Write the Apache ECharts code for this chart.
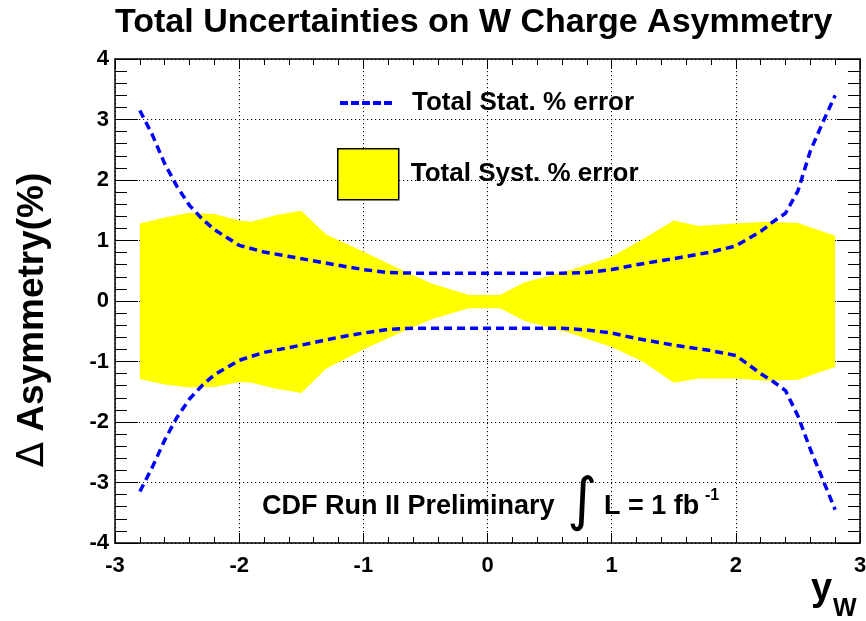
<!DOCTYPE html>
<html>
<head>
<meta charset="utf-8">
<script src="https://cdn.jsdelivr.net/npm/echarts@6/dist/echarts.min.js"></script>
<style>html,body{margin:0;padding:0;background:#fff;}#c{width:866px;height:621px;}</style>
</head>
<body>
<div id="c"></div>
<script>
// ---- data ----
const statX = [-2.8,-2.7,-2.6,-2.5,-2.4,-2.3,-2.2,-2.0,-1.8,-1.5,-1.2,-1.0,-0.8,-0.6,0,0.6,0.8,1.0,1.2,1.5,1.8,2.0,2.2,2.3,2.4,2.5,2.6,2.7,2.8];
const statUp = [3.15,2.75,2.27,1.89,1.58,1.36,1.18,0.92,0.81,0.70,0.59,0.52,0.47,0.46,0.46,0.46,0.47,0.52,0.60,0.70,0.81,0.91,1.15,1.31,1.45,1.82,2.48,2.95,3.40];
const statDown = [-3.15,-2.75,-2.30,-1.92,-1.62,-1.40,-1.22,-0.98,-0.85,-0.73,-0.60,-0.53,-0.47,-0.45,-0.45,-0.45,-0.48,-0.53,-0.62,-0.73,-0.82,-0.90,-1.20,-1.33,-1.48,-1.90,-2.45,-2.95,-3.45];

const systX = [-2.8,-2.6,-2.4,-2.2,-2.0,-1.9,-1.7,-1.5,-1.3,-1.0,-0.7,-0.45,-0.15,0.1,0.3,0.65,1.0,1.25,1.5,1.7,2.0,2.25,2.5,2.8];
const systUp = [1.28,1.38,1.46,1.44,1.33,1.31,1.42,1.49,1.10,0.82,0.52,0.29,0.10,0.10,0.31,0.50,0.73,1.02,1.33,1.24,1.28,1.31,1.29,1.08];
const systDown = [-1.29,-1.38,-1.43,-1.42,-1.34,-1.35,-1.45,-1.52,-1.12,-0.80,-0.52,-0.30,-0.12,-0.12,-0.33,-0.52,-0.76,-1.00,-1.35,-1.28,-1.28,-1.32,-1.30,-1.09];

const titleText = 'Total Uncertainties on W Charge Asymmetry';
const statName = 'Total Stat. % error';
const systName = 'Total Syst. % error';
const xMin = -3, xMax = 3, yMin = -4, yMax = 4;

const pairs = (xs, ys) => xs.map((x, i) => [x, ys[i]]);
const FONT = '"Liberation Sans", Arial, Helvetica, sans-serif';

function axisCommon(showLabel, showSplit, major, minor) {
  return {
    axisLine: { show: true, onZero: false, lineStyle: { color: '#000', width: 1.5 } },
    axisTick: { show: true, inside: true, length: major, lineStyle: { color: '#000', width: 1 } },
    minorTick: { show: true, splitNumber: 5, length: minor, lineStyle: { color: '#000', width: 1 } },
    splitLine: { show: showSplit, lineStyle: { color: '#000', width: 1, type: [1.2, 2.8] } },
    minorSplitLine: { show: false },
    axisLabel: { show: showLabel, color: '#000', fontSize: 22, fontWeight: 'bold', fontFamily: FONT }
  };
}

const chart = echarts.init(document.getElementById('c'), null, { renderer: 'canvas' });
chart.setOption({
  backgroundColor: '#fff',
  animation: false,
  title: {
    text: titleText, left: 110, top: 1,
    textStyle: { fontSize: 34, fontWeight: 'bold', color: '#000', fontFamily: FONT }
  },
  grid: { left: 115, right: 6, top: 59, bottom: 78, containLabel: false, outerBoundsMode: 'none' },
  xAxis: [
    Object.assign({ type: 'value', min: xMin, max: xMax, interval: 1, position: 'bottom' }, axisCommon(true, true, 10, 6),
      { axisLabel: { show: true, color: '#000', fontSize: 22, fontWeight: 'bold', fontFamily: FONT, margin: 12 } }),
    Object.assign({ type: 'value', min: xMin, max: xMax, interval: 1, position: 'top' }, axisCommon(false, false, 10, 6))
  ],
  yAxis: [
    Object.assign({ type: 'value', min: yMin, max: yMax, interval: 1, position: 'left' }, axisCommon(true, true, 23, 12),
      { axisLabel: { show: true, color: '#000', fontSize: 22, fontWeight: 'bold', fontFamily: FONT, margin: 6 } }),
    Object.assign({ type: 'value', min: yMin, max: yMax, interval: 1, position: 'right' }, axisCommon(false, false, 23, 12))
  ],
  legend: [
    {
      data: [{ name: statName, icon: 'path://M0 0H8V4H0Z M11 0H19V4H11Z M22 0H30V4H22Z M33 0H41V4H33Z M44 0H52V4H44Z' }],
      left: 340, top: 90, padding: 0, selectedMode: false,
      itemWidth: 52, itemHeight: 4,
      itemStyle: { color: '#0000ff', borderWidth: 0 },
      textStyle: { fontSize: 26, fontWeight: 'bold', color: '#000', fontFamily: FONT, padding: [6, 0, 0, 15] }
    },
    {
      data: [{ name: systName, icon: 'rect' }], left: 337, top: 148, padding: 0, selectedMode: false,
      itemWidth: 61, itemHeight: 51,
      itemStyle: { color: '#ffff00', borderColor: '#000', borderWidth: 1.5 },
      textStyle: { fontSize: 26, fontWeight: 'bold', color: '#000', fontFamily: FONT, padding: [0, 0, 0, 7] }
    }
  ],
  series: [
    {
      name: systName, type: 'line', data: pairs(systX, systUp), symbol: 'none', z: 1,
      color: '#ffff00', lineStyle: { width: 0 }, areaStyle: { color: '#ffff00', opacity: 1 }
    },
    {
      name: systName, type: 'line', data: pairs(systX, systDown), symbol: 'none', z: 1,
      color: '#ffff00', lineStyle: { width: 0 }, areaStyle: { color: '#ffff00', opacity: 1 }
    },
    {
      name: statName, type: 'line', data: pairs(statX, statUp), symbol: 'none', z: 3,
      color: '#0000ff', lineStyle: { color: '#0000ff', width: 3.5, type: [8, 5] }
    },
    {
      name: statName, type: 'line', data: pairs(statX, statDown), symbol: 'none', z: 3,
      color: '#0000ff', lineStyle: { color: '#0000ff', width: 3.5, type: [8, 5] }
    }
  ],
  graphic: [
    {
      type: 'text', x: 33, y: 320, rotation: Math.PI / 2,
      style: {
        text: '{d|Δ} Asymmetry(%)', align: 'center', verticalAlign: 'middle',
        fontSize: 37, fontWeight: 'bold', fill: '#000', fontFamily: FONT,
        rich: { d: { fontSize: 37, fontWeight: 'normal', fontFamily: '"DejaVu Sans", sans-serif', fill: '#000' } }
      }
    },
    { type: 'text', x: 811, y: 590, style: { text: 'y', align: 'left', verticalAlign: 'middle', fontSize: 38, fontWeight: 'bold', fill: '#000', fontFamily: FONT } },
    { type: 'text', x: 833, y: 609, style: { text: 'W', align: 'left', verticalAlign: 'middle', fontSize: 25, fontWeight: 'bold', fill: '#000', fontFamily: FONT } },
    { type: 'text', x: 262, y: 507, style: { text: 'CDF Run II Preliminary', align: 'left', verticalAlign: 'middle', fontSize: 27, fontWeight: 'bold', fill: '#000', fontFamily: FONT } },
    { type: 'text', x: 582, y: 504, style: { text: '∫', align: 'center', verticalAlign: 'middle', fontSize: 58, fontWeight: 'normal', fill: '#000', fontFamily: '"DejaVu Sans", sans-serif' } },
    { type: 'text', x: 604, y: 507, style: { text: 'L = 1 fb', align: 'left', verticalAlign: 'middle', fontSize: 27, fontWeight: 'bold', fill: '#000', fontFamily: FONT } },
    { type: 'text', x: 705, y: 496, style: { text: '-1', align: 'left', verticalAlign: 'middle', fontSize: 16, fontWeight: 'bold', fill: '#000', fontFamily: FONT } }
  ]
});
</script>
</body>
</html>
